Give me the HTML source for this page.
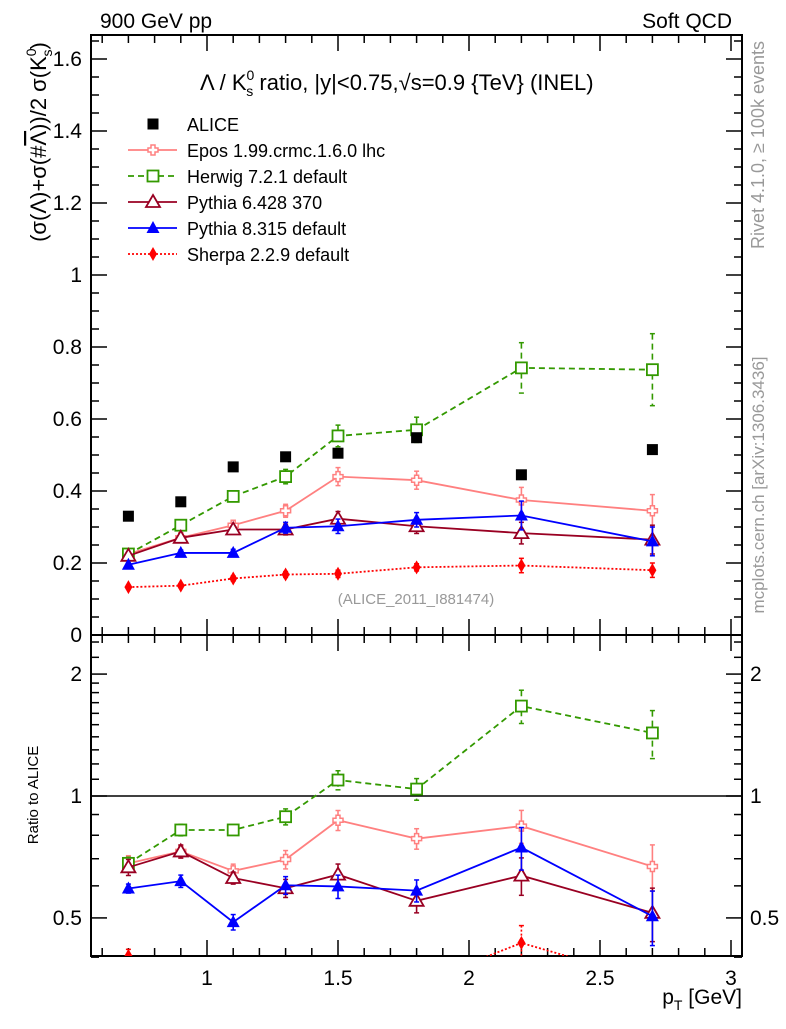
<!DOCTYPE html>
<html><head><meta charset="utf-8"><style>
body{margin:0;background:#fff}
svg text{font-family:"Liberation Sans",sans-serif}
</style></head><body>
<svg id="c" width="786" height="1024" xmlns="http://www.w3.org/2000/svg">
<defs>
<clipPath id="cm"><rect x="91" y="35" width="651" height="600"/></clipPath>
<clipPath id="cr"><rect x="91" y="635" width="651" height="321"/></clipPath>
</defs>
<text x="100" y="28" font-size="21">900 GeV pp</text>
<text x="732" y="28" font-size="21" text-anchor="end">Soft QCD</text>
<text x="200" y="90" font-size="22">Λ / K<tspan dy="-10" font-size="14">0</tspan><tspan dx="-8" dy="16" font-size="14">s</tspan><tspan dy="-6"> ratio, |y|&lt;0.75,√s=0.9 {TeV} (INEL)</tspan></text>
<text transform="translate(46,142) rotate(-90)" font-size="22" text-anchor="middle">(σ(Λ)+σ(#<tspan text-decoration="overline">Λ</tspan>))/2 σ(K<tspan dy="-10" font-size="14">0</tspan><tspan dx="-8" dy="16" font-size="14">s</tspan><tspan dy="-6">)</tspan></text>
<text transform="translate(38,795) rotate(-90)" font-size="15" text-anchor="middle">Ratio to ALICE</text>
<text x="742" y="1004" font-size="21" text-anchor="end">p<tspan dy="6" font-size="14">T</tspan><tspan dy="-6"> [GeV]</tspan></text>
<text transform="translate(764,145) rotate(-90)" font-size="18" fill="#999" text-anchor="middle">Rivet 4.1.0, ≥ 100k events</text>
<text transform="translate(764,485) rotate(-90)" font-size="17" fill="#999" text-anchor="middle">mcplots.cern.ch [arXiv:1306.3436]</text>
<text x="416" y="604" font-size="15" fill="#999" text-anchor="middle">(ALICE_2011_I881474)</text>
<g id="axes"></g>
<g id="main" clip-path="url(#cm)"></g>
<g id="ratio" clip-path="url(#cr)"></g>
<g id="legend"></g>
</svg>
<script>
const xs=[0.7,0.9,1.1,1.3,1.5,1.8,2.2,2.7];
const alice=[0.33,0.37,0.467,0.495,0.505,0.548,0.445,0.515];
const epos=[0.225,0.27,0.305,0.345,0.44,0.43,0.375,0.345];
const eposErr=[0.01,0.01,0.012,0.018,0.025,0.025,0.035,0.045];
const herwig=[0.225,0.305,0.385,0.44,0.553,0.57,0.742,0.737];
const herwigErr=[0.008,0.01,0.01,0.02,0.03,0.035,0.07,0.1];
const py6=[0.22,0.27,0.293,0.293,0.323,0.302,0.283,0.265];
const py6Err=[0.01,0.01,0.01,0.015,0.02,0.02,0.03,0.04];
const py8=[0.195,0.228,0.228,0.298,0.302,0.32,0.332,0.26];
const py8Err=[0.005,0.008,0.01,0.015,0.02,0.02,0.04,0.04];
const sherpa=[0.133,0.137,0.157,0.168,0.17,0.188,0.193,0.18];
const sherpaErr=[0.005,0.005,0.007,0.008,0.01,0.01,0.02,0.02];
const yTicks=[0,0.2,0.4,0.6,0.8,1,1.2,1.4,1.6];
const xTicks=[1,1.5,2,2.5,3];
const rTicks=[0.5,1,2];

const NS="http://www.w3.org/2000/svg";
const X=v=>207+(v-1)*262;
const Y=v=>635-v*360;
const R=v=>796-Math.log10(v)*405;
function mk(p,t,a){const e=document.createElementNS(NS,t);for(const k in a)e.setAttribute(k,a[k]);p.appendChild(e);return e;}
const ax=document.getElementById('axes');
const f1=mk(ax,'rect',{x:91,y:35,width:651,height:600,fill:'none',stroke:'#000','stroke-width':2});


const f2=mk(ax,'rect',{x:91,y:635,width:651,height:321,fill:'none',stroke:'#000','stroke-width':2});


const ref=mk(ax,'line',{x1:91,x2:742,y1:R(1),y2:R(1),stroke:'#000','stroke-width':1.5});


for(let i=6;i<=30;i++){const v=i/10;const x=X(v);if(x<91||x>742)continue;const maj=i%5==0;const L=maj?16:8;
 [[635,-1],[635,1],[956,-1],[35,1]].forEach(([y0,d])=>mk(ax,'line',{x1:x,x2:x,y1:y0,y2:y0+d*L,stroke:'#000','stroke-width':1.5}));}
xTicks.forEach(v=>{const t=mk(ax,'text',{x:X(v),y:985,'font-size':21,'text-anchor':'middle'});t.textContent=String(v);

});
for(let i=0;i<=33;i++){const v=i*0.05;const y=Y(v);if(y<35)continue;const maj=i%4==0;const L=maj?16:8;
 mk(ax,'line',{x1:91,x2:91+L,y1:y,y2:y,stroke:'#000','stroke-width':1.5});mk(ax,'line',{x1:742,x2:742-L,y1:y,y2:y,stroke:'#000','stroke-width':1.5});}
yTicks.forEach(v=>{const t=mk(ax,'text',{x:82,y:Y(v)+7,'font-size':21,'text-anchor':'end'});t.textContent=String(v);

});
[0.4,0.5,0.6,0.7,0.8,0.9,1,2].forEach(v=>{const y=R(v);const maj=rTicks.includes(v);const L=maj?16:8;
 mk(ax,'line',{x1:91,x2:91+L,y1:y,y2:y,stroke:'#000','stroke-width':1.5});mk(ax,'line',{x1:742,x2:742-L,y1:y,y2:y,stroke:'#000','stroke-width':1.5});});
[1.1,1.2,1.3,1.4,1.5,1.6,1.7,1.8,1.9,2.2,2.4].forEach(v=>{const y=R(v);
 mk(ax,'line',{x1:91,x2:99,y1:y,y2:y,stroke:'#000','stroke-width':1.5});mk(ax,'line',{x1:742,x2:734,y1:y,y2:y,stroke:'#000','stroke-width':1.5});});
rTicks.forEach(v=>{[[82,'end'],[750,'start']].forEach(([x,a])=>{const t=mk(ax,'text',{x:x,y:R(v)+7,'font-size':21,'text-anchor':a});t.textContent=String(v);

});});

function marker(g,type,x,y,c){
 if(type=='sq')mk(g,'rect',{x:x-5.5,y:y-5.5,width:11,height:11,fill:c});
 if(type=='osq')mk(g,'rect',{x:x-5.5,y:y-5.5,width:11,height:11,fill:'#fff',stroke:c,'stroke-width':1.8});
 if(type=='cross')mk(g,'path',{d:`M${x-2} ${y-5}h4v3h3v4h-3v3h-4v-3h-3v-4h3z`,fill:'#fff',stroke:c,'stroke-width':1.5});
 if(type=='otri')mk(g,'path',{d:`M${x} ${y-7}L${x+7} ${y+5}L${x-7} ${y+5}Z`,fill:'#fff',stroke:c,'stroke-width':1.8});
 if(type=='tri')mk(g,'path',{d:`M${x} ${y-7}L${x+6.5} ${y+5}L${x-6.5} ${y+5}Z`,fill:c});
 if(type=='dia')mk(g,'path',{d:`M${x} ${y-7}L${x+4} ${y}L${x} ${y+7}L${x-4} ${y}Z`,fill:c});
}
const series=[
 {n:'epos',v:epos,e:eposErr,c:'#ff8080',m:'cross',d:'',lab:'Epos 1.99.crmc.1.6.0 lhc'},
 {n:'herwig',v:herwig,e:herwigErr,c:'#339900',m:'osq',d:'6,4',lab:'Herwig 7.2.1 default'},
 {n:'pythia6',v:py6,e:py6Err,c:'#990022',m:'otri',d:'',lab:'Pythia 6.428 370'},
 {n:'pythia8',v:py8,e:py8Err,c:'#0000ff',m:'tri',d:'',lab:'Pythia 8.315 default'},
 {n:'sherpa',v:sherpa,e:sherpaErr,c:'#ff0000',m:'dia',d:'2,2',lab:'Sherpa 2.2.9 default'}];
const gm=document.getElementById('main'),gr=document.getElementById('ratio');
series.forEach(s=>{
 [[gm,Y,s.v,s.e],[gr,R,s.v.map((v,i)=>v/alice[i]),s.e.map((e,i)=>e/alice[i])]].forEach(([par,F,vals,errs],k)=>{
  const g=mk(par,'g',{});
  
  
  mk(g,'polyline',{points:xs.map((x,i)=>X(x)+','+F(vals[i])).join(' '),fill:'none',stroke:s.c,'stroke-width':1.8,'stroke-dasharray':s.d});
  xs.forEach((x,i)=>{const lo=Math.max(vals[i]-errs[i],0.01);
   mk(g,'line',{x1:X(x),x2:X(x),y1:F(vals[i]+errs[i]),y2:F(lo),stroke:s.c,'stroke-width':1.6,'stroke-dasharray':s.d});
   mk(g,'line',{x1:X(x)-2.5,x2:X(x)+2.5,y1:F(vals[i]+errs[i]),y2:F(vals[i]+errs[i]),stroke:s.c,'stroke-width':1.5});
   mk(g,'line',{x1:X(x)-2.5,x2:X(x)+2.5,y1:F(lo),y2:F(lo),stroke:s.c,'stroke-width':1.5});
   const p=mk(g,'g',{});
   
   
   marker(p,s.m,X(x),F(vals[i]),s.c);});
 });
});
const ga=mk(gm,'g',{});


xs.forEach((x,i)=>marker(ga,'sq',X(x),Y(alice[i]),'#000'));
const lg=document.getElementById('legend');
const items=[{c:'#000',m:'sq',d:'',lab:'ALICE',noline:true,n:'alice'}].concat(series);
items.forEach((s,i)=>{const y=124+i*26;const g=mk(lg,'g',{});
 
 
 if(!s.noline)mk(g,'line',{x1:128,x2:177,y1:y,y2:y,stroke:s.c,'stroke-width':1.8,'stroke-dasharray':s.d});
 marker(g,s.m,153,y,s.c);
 const t=mk(g,'text',{x:187,y:y+7,'font-size':18});t.textContent=s.lab;});
</script>
</body></html>
